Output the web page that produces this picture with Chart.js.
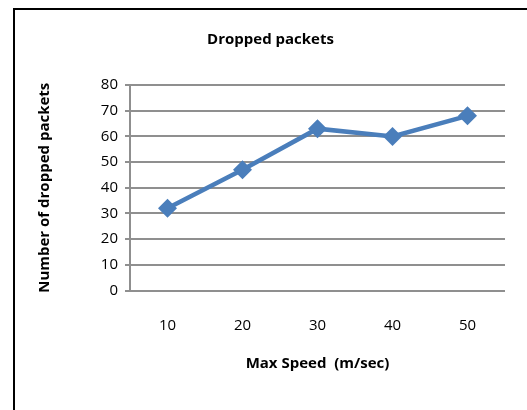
<!DOCTYPE html>
<html>
<head>
<meta charset="utf-8">
<script src="https://cdn.jsdelivr.net/npm/chart.js@4/dist/chart.umd.min.js"></script>
<style>
  html, body { margin: 0; padding: 0; background: #fff; }
  #wrap { position: relative; width: 527px; height: 410px; overflow: hidden; }
  #frame { position: absolute; left: 13px; top: 8px; width: 600px; height: 500px;
           border-left: 2px solid #000; border-top: 2px solid #000; }
  canvas { position: absolute; left: 0; top: 0; }
</style>
</head>
<body>
<div id="wrap">
  <div id="frame"></div>
  <canvas id="c" width="527" height="410"></canvas>
</div>
<script>
const speeds = ['10', '20', '30', '40', '50'];
const droppedPackets = [32, 47, 63, 60, 68];
const yTicks = [0, 10, 20, 30, 40, 50, 60, 70, 80];

const FONT = '"Open Sans", "Noto Sans", sans-serif';
const GRID = '#8f8f8f';
const BLUE = '#4a7ebb';

new Chart(document.getElementById('c'), {
  type: 'line',
  data: {
    labels: speeds,
    datasets: [{
      data: droppedPackets,
      borderColor: BLUE,
      backgroundColor: BLUE,
      borderWidth: 4.5,
      pointStyle: 'rectRot',
      pointRadius: 9.5,
      pointHoverRadius: 9.5,
      pointBorderWidth: 0,
      tension: 0
    }]
  },
  options: {
    responsive: false,
    animation: false,
    devicePixelRatio: 1,
    layout: { padding: { left: 36, right: 22, top: 10, bottom: 37 } },
    plugins: {
      legend: { display: false },
      tooltip: { enabled: false },
      title: {
        display: true,
        text: 'Dropped packets',
        color: '#000',
        font: { family: FONT, size: 15, weight: 'bold' },
        padding: { top: 21, bottom: 36 }
      }
    },
    scales: {
      x: {
        offset: true,
        grid: { display: false },
        border: { display: false },
        afterFit: (axis) => { axis.height = 82.5; },
        ticks: { color: '#000', font: { family: FONT, size: 15 }, padding: 18.5 },
        title: {
          display: true,
          text: 'Max Speed  (m/sec)',
          color: '#000',
          font: { family: FONT, size: 15, weight: 'bold' },
          padding: { top: 0, bottom: 0 }
        }
      },
      y: {
        min: 0,
        max: 80,
        afterBuildTicks: (axis) => { axis.ticks = yTicks.map(v => ({ value: v })); },
        afterFit: (axis) => { axis.width = 94; },
        grid: { color: GRID, lineWidth: 2, tickLength: 5, drawTicks: true },
        border: { color: GRID, width: 2 },
        ticks: { color: '#000', font: { family: FONT, size: 15 }, padding: 7 },
        title: {
          display: true,
          text: 'Number of dropped packets',
          color: '#000',
          font: { family: FONT, size: 15, weight: 'bold' },
          padding: { top: 0, bottom: 0 }
        }
      }
    }
  }
});
</script>
</body>
</html>
